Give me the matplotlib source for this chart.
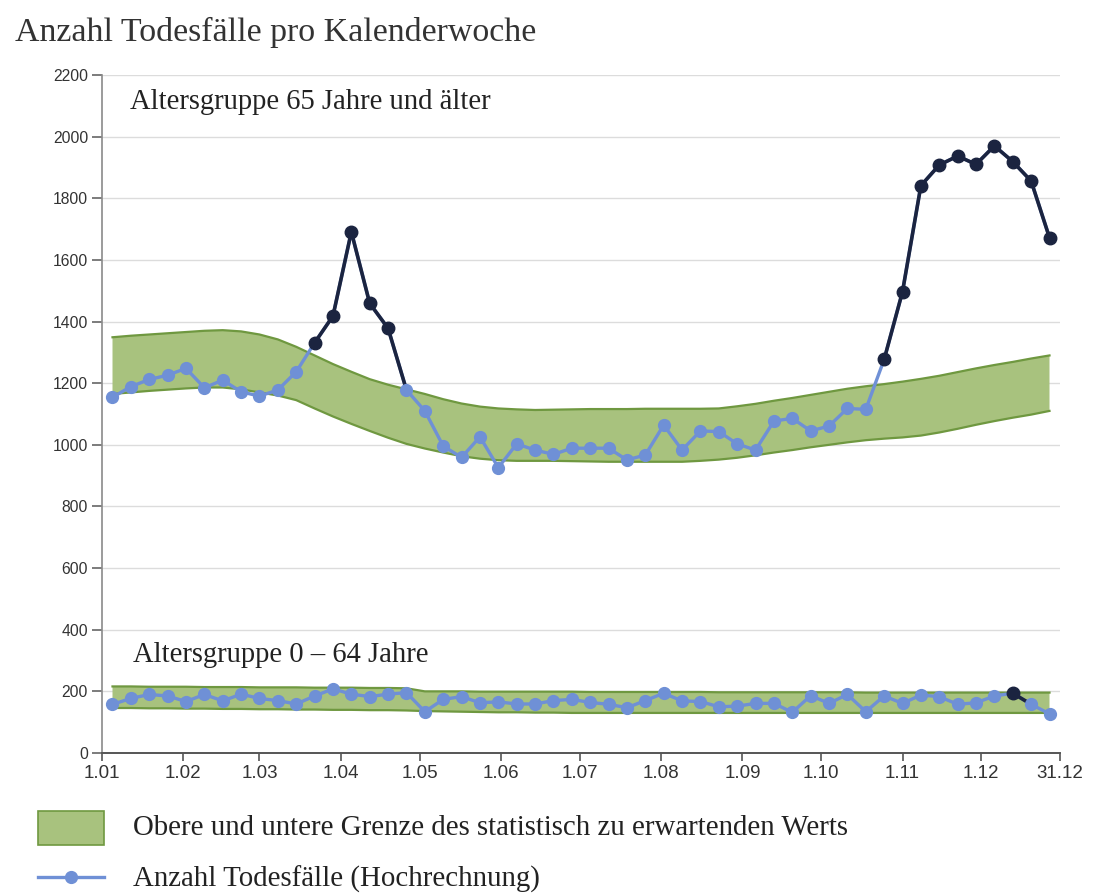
import matplotlib
matplotlib.use("Agg")
import matplotlib.pyplot as plt
from matplotlib.lines import Line2D
from matplotlib.patches import Rectangle
import pandas as pd
import numpy as np

# ---------------- data ----------------
weeks = pd.date_range("2020-01-05", periods=52, freq="7D")

old_deaths = [1154, 1189, 1212, 1226, 1248, 1185, 1210, 1172, 1158, 1178,
              1237, 1331, 1418, 1691, 1459, 1378, 1178, 1110, 996, 959,
              1026, 926, 1003, 983, 969, 989, 989, 989, 951, 967,
              1064, 983, 1045, 1043, 1003, 983, 1077, 1086, 1045, 1061,
              1118, 1115, 1277, 1497, 1841, 1908, 1937, 1910, 1970, 1919,
              1856, 1672]
old_upper = [1349, 1354, 1358, 1362, 1366, 1370, 1372, 1368, 1358, 1342,
             1318, 1290, 1262, 1237, 1213, 1195, 1180, 1165, 1148, 1134,
             1124, 1118, 1115, 1113, 1114, 1115, 1116, 1116, 1116, 1117,
             1117, 1117, 1117, 1118, 1125, 1133, 1143, 1152, 1162, 1172,
             1182, 1190, 1197, 1205, 1214, 1224, 1236, 1248, 1259, 1269,
             1280, 1290]
old_lower = [1165, 1170, 1175, 1179, 1183, 1186, 1186, 1180, 1170, 1160,
             1145, 1118, 1092, 1068, 1045, 1023, 1003, 988, 975, 963,
             955, 950, 948, 948, 948, 947, 946, 945, 945, 945,
             945, 945, 948, 952, 958, 966, 975, 983, 992, 1000,
             1008, 1015, 1020, 1024, 1030, 1040, 1052, 1065, 1077, 1088,
             1098, 1110]
old_excess = [11, 12, 13, 14, 15, 42, 43, 44, 45, 46, 47, 48, 49, 50, 51]

young_deaths = [158, 177, 190, 185, 167, 190, 169, 191, 177, 170,
                159, 185, 208, 191, 183, 191, 196, 134, 174, 183,
                163, 166, 159, 159, 170, 174, 164, 158, 147, 170,
                194, 169, 167, 150, 152, 161, 161, 132, 186, 161,
                190, 134, 185, 161, 188, 183, 158, 163, 185, 194,
                158, 127]
young_upper = [216, 216, 215, 215, 215, 214, 214, 214, 213, 213,
               213, 212, 212, 212, 211, 211, 210, 200, 200, 200,
               199, 199, 199, 199, 199, 199, 198, 198, 198, 198,
               198, 198, 198, 197, 197, 197, 197, 197, 197, 197,
               197, 196, 196, 196, 196, 196, 196, 196, 196, 196,
               196, 196]
young_lower = [146, 146, 145, 145, 144, 144, 143, 143, 142, 142,
               141, 141, 140, 140, 139, 139, 138, 136, 135, 134,
               133, 132, 132, 131, 131, 130, 130, 130, 130, 130,
               130, 130, 130, 130, 130, 130, 130, 130, 130, 130,
               130, 130, 130, 130, 130, 130, 130, 130, 130, 130,
               130, 130]
young_excess = [49]

month_ticks = pd.to_datetime(["2020-01-01", "2020-02-01", "2020-03-01", "2020-04-01",
                              "2020-05-01", "2020-06-01", "2020-07-01", "2020-08-01",
                              "2020-09-01", "2020-10-01", "2020-11-01", "2020-12-01",
                              "2020-12-31"])
month_labels = ["1.01", "1.02", "1.03", "1.04", "1.05", "1.06", "1.07", "1.08",
                "1.09", "1.10", "1.11", "1.12", "31.12"]
y_ticks = [0, 200, 400, 600, 800, 1000, 1200, 1400, 1600, 1800, 2000, 2200]

title = "Anzahl Todesfälle pro Kalenderwoche"
label_old = "Altersgruppe 65 Jahre und älter"
label_young = "Altersgruppe 0 – 64 Jahre"
legend_band = "Obere und untere Grenze des statistisch zu erwartenden Werts"
legend_line = "Anzahl Todesfälle (Hochrechnung)"

# ---------------- style ----------------
BAND_FACE = "#a8c27e"
BAND_EDGE = "#6f9840"
LIGHT = "#6f90d6"
DARK = "#1b2440"
SERIF = ["Liberation Serif", "DejaVu Serif"]
SANS = ["Liberation Sans", "DejaVu Sans"]

W, H = 1115, 893
fig = plt.figure(figsize=(W / 100, H / 100), dpi=100)
fig.patch.set_facecolor("white")
ax = fig.add_axes([102 / W, 1 - 753 / H, (1060 - 102) / W, (753 - 75) / H])

x = np.array(weeks)


def draw_group(deaths, upper, lower, excess):
    ax.fill_between(x, lower, upper, facecolor=BAND_FACE, edgecolor="none", zorder=2)
    ax.plot(x, upper, color=BAND_EDGE, lw=1.6, zorder=3)
    ax.plot(x, lower, color=BAND_EDGE, lw=1.6, zorder=3)
    d = np.array(deaths, dtype=float)
    ax.plot(x, d, color=LIGHT, lw=2.4, zorder=4)
    ex = set(excess)
    for i in range(len(d) - 1):
        if i in ex:
            ax.plot(x[i:i + 2], d[i:i + 2], color=DARK, lw=2.6, zorder=5)
    light_idx = [i for i in range(len(d)) if i not in ex]
    dark_idx = sorted(ex)
    ax.plot(x[light_idx], d[light_idx], ls="none", marker="o", ms=8.5,
            mfc=LIGHT, mec=LIGHT, zorder=6)
    ax.plot(x[dark_idx], d[dark_idx], ls="none", marker="o", ms=9,
            mfc=DARK, mec=DARK, zorder=7)


draw_group(old_deaths, old_upper, old_lower, old_excess)
draw_group(young_deaths, young_upper, young_lower, young_excess)

ax.set_ylim(0, 2200)
ax.set_xlim(pd.Timestamp("2020-01-01"), pd.Timestamp("2020-12-31"))
ax.set_yticks(y_ticks)
ax.set_yticklabels([str(v) for v in y_ticks], fontfamily=SANS, fontsize=11.3, color="#333333")
ax.set_xticks(month_ticks)
ax.set_xticklabels(month_labels, fontfamily=SANS, fontsize=13.5, color="#333333")

ax.grid(axis="y", color="#dcdcdc", lw=1.0, zorder=0)
ax.set_axisbelow(True)
for s in ["top", "right"]:
    ax.spines[s].set_visible(False)
ax.spines["left"].set_color("#8a8a8a")
ax.spines["left"].set_linewidth(1.2)
ax.spines["bottom"].set_color("#555555")
ax.spines["bottom"].set_linewidth(1.4)
ax.tick_params(axis="y", direction="out", length=7, width=1.2, color="#666666", pad=3)
ax.tick_params(axis="x", direction="out", length=6, width=1.2, color="#555555", pad=3)

ax.text(28 / 958, (753 - 102) / 678, label_old, transform=ax.transAxes,
        fontfamily=SERIF, fontsize=20.6, va="center", ha="left", color="#222222")
ax.text(31 / 958, (753 - 655) / 678, label_young, transform=ax.transAxes,
        fontfamily=SERIF, fontsize=20.6, va="center", ha="left", color="#222222")

fig.text(15 / W, 1 - 32 / H, title, fontfamily=SERIF, fontsize=24.4, va="center",
         ha="left", color="#333333")

# legend
fig.add_artist(Rectangle((38 / W, 1 - 845 / H), 66 / W, 34 / H, transform=fig.transFigure,
                         facecolor=BAND_FACE, edgecolor=BAND_EDGE, lw=1.2))
fig.text(133 / W, 1 - 828 / H, legend_band, fontfamily=SERIF, fontsize=20.8,
         va="center", ha="left", color="#222222")
fig.add_artist(Line2D([38 / W, 104 / W], [1 - 877 / H, 1 - 877 / H], transform=fig.transFigure,
                      color=LIGHT, lw=2.4))
fig.add_artist(Line2D([71 / W], [1 - 877 / H], transform=fig.transFigure,
                      color=LIGHT, marker="o", ms=8.5, ls="none"))
fig.text(133 / W, 1 - 879 / H, legend_line, fontfamily=SERIF, fontsize=20.8,
         va="center", ha="left", color="#222222")

fig.savefig("out.png", dpi=100, facecolor="white")
